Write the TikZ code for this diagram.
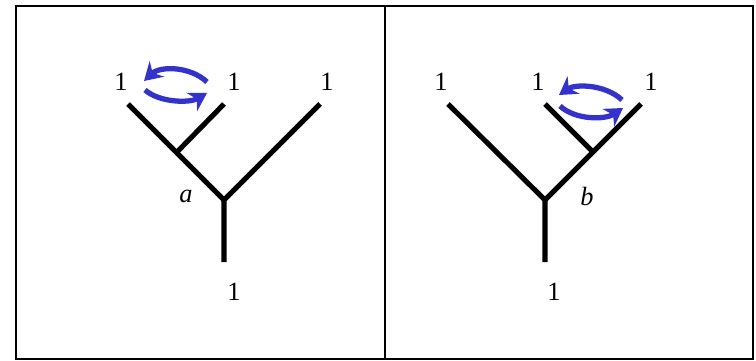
\documentclass[tikz,border=0pt]{standalone}
\usepackage{fontspec}
\setmainfont{Liberation Serif}
\usepackage{tikz}
\usetikzlibrary{arrows.meta}
\tikzset{
  frame/.style={line width=1.1pt, black},
  branch/.style={line width=2.9pt, black},
  swap/.style={line width=3pt, -{Stealth[length=10pt,width=12pt]}},
  leaf/.style={font=\fontsize{15}{17}\selectfont, inner sep=0pt},
  edge/.style={font=\fontsize{15}{17}\selectfont\itshape, inner sep=0pt},
}
\definecolor{swapblue}{RGB}{51,51,204}

\begin{document}
\begin{tikzpicture}[x=0.02cm,y=-0.02cm]
\useasboundingbox (0,0) rectangle (756,361);
\draw[frame] (16,6) rectangle (753,359);
\draw[frame] (385,6) -- (385,359);
% left tree
\coordinate (ra) at (224,262);
\coordinate (ja) at (224,200);
\coordinate (ka) at (177,152);
\coordinate (l1a) at (128,104);
\coordinate (l2a) at (224,104);
\coordinate (l3a) at (320,104);
\draw[branch] (ra) -- (ja) -- (l3a);
\draw[branch] (ja) -- (l1a);
\draw[branch] (ka) -- (l2a);
\node[leaf] (t1a) at (121,82) {1};
\node[leaf] (t2a) at (234,82) {1};
\node[leaf] (t3a) at (327,82) {1};
\node[leaf] (tra) at (234,292) {1};
\node[edge] (ea) at (186,196) {a};
\draw[swap,swapblue] (207,82) .. controls (190,66) and (160,66) .. (144,81);
\draw[swap,swapblue] (145,90) .. controls (160,103) and (190,103) .. (207,93);
% right tree
\coordinate (rb) at (545,262);
\coordinate (jb) at (545,200);
\coordinate (kb) at (593,152);
\coordinate (l1b) at (448,104);
\coordinate (l2b) at (545,104);
\coordinate (l3b) at (641,104);
\draw[branch] (rb) -- (jb) -- (l1b);
\draw[branch] (jb) -- (l3b);
\draw[branch] (kb) -- (l2b);
\node[leaf] (t1b) at (441,82) {1};
\node[leaf] (t2b) at (538,82) {1};
\node[leaf] (t3b) at (651,82) {1};
\node[leaf] (trb) at (554,292) {1};
\node[edge] (eb) at (587,196) {b};
\draw[swap,swapblue] (622,100) .. controls (605,84) and (575,84) .. (559,95);
\draw[swap,swapblue] (560,106) .. controls (575,120) and (605,120) .. (623,108);
\end{tikzpicture}
\end{document}
